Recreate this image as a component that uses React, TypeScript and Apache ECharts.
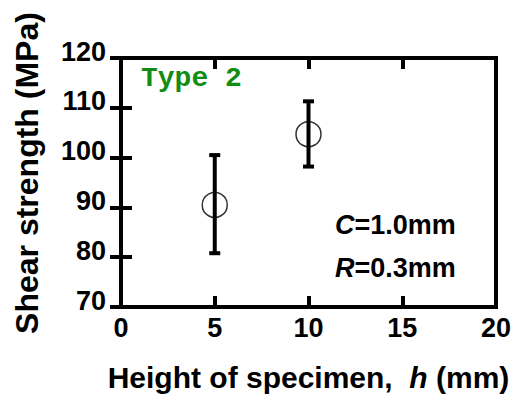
import React, { useEffect, useRef } from "react";
import * as echarts from "echarts";

const xValues = [5, 10];
const meanValues = [90.5, 104.7];
const upperValues = [100.5, 111.3];
const lowerValues = [80.8, 98.2];
const xTicks = [0, 5, 10, 15, 20];
const yTicks = [70, 80, 90, 100, 110, 120];

const FONT = "'Liberation Sans', Arial, sans-serif";

export default function App() {
  const ref = useRef<HTMLDivElement>(null);
  useEffect(() => {
    if (!ref.current) return;
    const chart = echarts.init(ref.current, null, { renderer: "svg" });
    const points = xValues.map((x, i) => [x, meanValues[i]]);
    const bars = xValues.map((x, i) => [x, lowerValues[i], upperValues[i]]);
    const tickCommon = {
      show: true,
      inside: true,
      length: 11,
      lineStyle: { color: "#000", width: 4 },
    };
    const labelCommon = {
      color: "#000",
      fontFamily: FONT,
      fontWeight: "bold" as const,
      fontSize: 27,
    };
    chart.setOption({
      animation: false,
      backgroundColor: "#fff",
      grid: {
        left: 121,
        right: 27,
        top: 58,
        bottom: 94,
        show: true,
        borderColor: "#000",
        borderWidth: 4,
        backgroundColor: "transparent",
      },
      xAxis: [
        {
          type: "value",
          position: "bottom",
          min: xTicks[0],
          max: xTicks[xTicks.length - 1],
          interval: 5,
          axisLine: { show: false },
          axisTick: tickCommon,
          splitLine: { show: false },
          axisLabel: { ...labelCommon, margin: 7 },
          name: "{n|Height of specimen,  }{i|h}{n| (mm)}",
          nameLocation: "middle",
          nameGap: 55,
          nameTextStyle: {
            rich: {
              n: { fontFamily: FONT, fontWeight: "bold", fontSize: 30, color: "#000" },
              i: { fontFamily: FONT, fontWeight: "bold", fontStyle: "italic", fontSize: 30, color: "#000" },
            },
          },
        },
        {
          type: "value",
          position: "top",
          min: xTicks[0],
          max: xTicks[xTicks.length - 1],
          interval: 5,
          axisLine: { show: false },
          axisTick: tickCommon,
          splitLine: { show: false },
          axisLabel: { show: false },
        },
      ],
      yAxis: [
        {
          type: "value",
          position: "left",
          min: yTicks[0],
          max: yTicks[yTicks.length - 1],
          interval: 10,
          axisLine: { show: false },
          axisTick: tickCommon,
          splitLine: { show: false },
          axisLabel: {
            ...labelCommon,
            margin: 15,
            lineHeight: 13,
            formatter: (v: number) => `${v}\n`,
          },
          name: "Shear strength (MPa)",
          nameLocation: "middle",
          nameGap: 78,
          nameTextStyle: {
            fontFamily: FONT,
            fontWeight: "bold",
            fontSize: 32,
            color: "#000",
            padding: [0, 0, 0, 19],
          },
        },
        {
          type: "value",
          position: "right",
          min: yTicks[0],
          max: yTicks[yTicks.length - 1],
          interval: 10,
          axisLine: { show: false },
          axisTick: tickCommon,
          splitLine: { show: false },
          axisLabel: { show: false },
        },
      ],
      graphic: [
        {
          type: "text",
          left: 141,
          top: 64,
          style: {
            text: "Type 2",
            fontFamily: "'Liberation Mono', 'Courier New', monospace",
            fontWeight: "bold",
            fontSize: 28,
            fill: "#128c12",
          },
        },
        {
          type: "text",
          left: 335,
          top: 211,
          style: {
            text: "{i|C}{n|=1.0mm}",
            rich: {
              i: { fontFamily: FONT, fontWeight: "bold", fontStyle: "italic", fontSize: 27, fill: "#000" },
              n: { fontFamily: FONT, fontWeight: "bold", fontSize: 27, fill: "#000" },
            },
          },
        },
        {
          type: "text",
          left: 335,
          top: 254,
          style: {
            text: "{i|R}{n|=0.3mm}",
            rich: {
              i: { fontFamily: FONT, fontWeight: "bold", fontStyle: "italic", fontSize: 27, fill: "#000" },
              n: { fontFamily: FONT, fontWeight: "bold", fontSize: 27, fill: "#000" },
            },
          },
        },
      ],
      series: [
        {
          type: "custom",
          xAxisIndex: 0,
          yAxisIndex: 0,
          data: bars,
          renderItem: (params: any, api: any) => {
            const x = api.value(0);
            const lo = api.coord([x, api.value(1)]);
            const hi = api.coord([x, api.value(2)]);
            const half = 5.5;
            const style = { stroke: "#000", lineWidth: 4 };
            return {
              type: "group",
              children: [
                { type: "line", shape: { x1: lo[0], y1: lo[1], x2: hi[0], y2: hi[1] }, style },
                { type: "line", shape: { x1: lo[0] - half, y1: lo[1], x2: lo[0] + half, y2: lo[1] }, style },
                { type: "line", shape: { x1: hi[0] - half, y1: hi[1], x2: hi[0] + half, y2: hi[1] }, style },
              ],
            };
          },
          z: 2,
        },
        {
          type: "scatter",
          xAxisIndex: 0,
          yAxisIndex: 0,
          data: points,
          symbol: "circle",
          symbolSize: 25,
          itemStyle: { color: "transparent", borderColor: "#000", borderWidth: 1.5 },
          z: 3,
        },
      ],
    });
    return () => chart.dispose();
  }, []);
  return (
    <div
      ref={ref}
      style={{ position: "absolute", left: 0, top: 0, width: 523, height: 401 }}
    />
  );
}
